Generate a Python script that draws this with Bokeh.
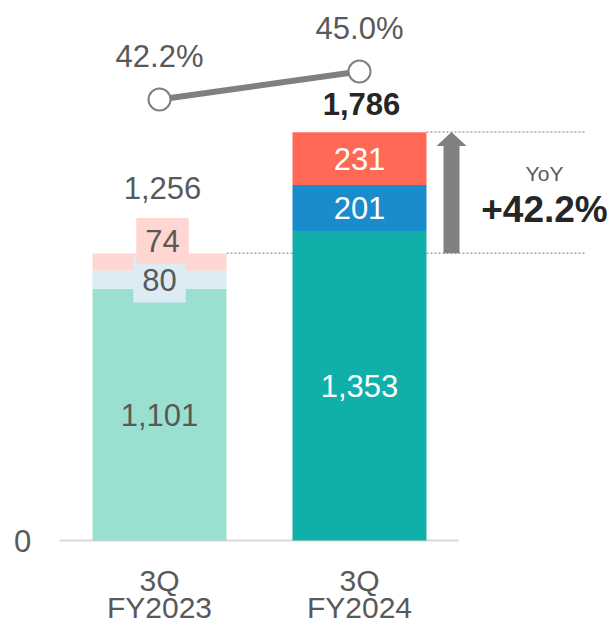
from bokeh.plotting import figure
from bokeh.models import Range1d
from bokeh.core.properties import value
from bokeh.embed import file_html
from bokeh.resources import INLINE
import numpy as np

# ---- data ----
cat_line1 = ["3Q", "3Q"]
cat_line2 = ["FY2023", "FY2024"]
seg_base = [1101, 1353]
seg_mid = [80, 201]
seg_top = [74, 231]
totals = [1256, 1786]
margin_pct = [42.2, 45.0]
yoy_label = "+42.2%"

# ---- styles ----
FONT = value("Liberation Sans")
GRAY = "#595959"
base_colors = ["#99e0d1", "#10afa9"]
mid_colors = ["#ddebf5", "#1a8bcb"]
top_colors = ["#ffd6d1", "#ff6a56"]
label_colors = [GRAY, "#ffffff"]

xs = np.arange(len(cat_line1))
b0 = np.zeros(2)
b1 = np.array(seg_base, float)
b2 = b1 + np.array(seg_mid)
b3 = b2 + np.array(seg_top)
W = 0.67
PX_PER_UNIT = 0.2287  # vertical pixels per value unit

p = figure(width=611, height=626, x_range=Range1d(-0.795, 2.26), y_range=Range1d(-376, 2361),
           output_backend="svg", toolbar_location=None, x_axis_type=None, y_axis_type=None,
           min_border=0, outline_line_color=None)
p.grid.visible = False
p.extra_y_ranges = {"pct": Range1d(-10.5, 52.1)}

# dotted guide lines
right_edge = 2.135
p.segment(x0=[xs[0] + W / 2, xs[1] + W / 2], y0=totals, x1=[right_edge, right_edge], y1=totals,
          line_color="#a6a6a6", line_width=1.5, line_dash="2 2")

# baseline
p.segment(x0=[-0.5], y0=[0], x1=[1.495], y1=[0], line_color="#d9d9d9", line_width=2)

# bars
p.vbar(x=xs, bottom=b0, top=b1, width=W, fill_color=base_colors, line_color=None)
p.vbar(x=xs, bottom=b1, top=b2, width=W, fill_color=mid_colors, line_color=None)
p.vbar(x=xs, bottom=b2, top=b3, width=W, fill_color=top_colors, line_color=None)

# segment labels
fs = "31px"
p.text(x=xs, y=(b0 + b1) / 2, text=[f"{v:,}" for v in seg_base], text_color=label_colors,
       text_font=FONT, text_font_size=fs, text_align="center", text_baseline="middle")
p.text(x=[xs[1]], y=[(b1[1] + b2[1]) / 2], text=[f"{seg_mid[1]:,}"], text_color="#ffffff",
       text_font=FONT, text_font_size=fs, text_align="center", text_baseline="middle")
p.text(x=[xs[1]], y=[(b2[1] + b3[1]) / 2], text=[f"{seg_top[1]:,}"], text_color="#ffffff",
       text_font=FONT, text_font_size=fs, text_align="center", text_baseline="middle")
# FY2023 small segments with boxed labels
p.text(x=[xs[0]], y=[(b1[0] + b2[0]) / 2], text=[f"{seg_mid[0]:,}"], text_color=GRAY,
       text_font=FONT, text_font_size=fs, text_align="center", text_baseline="middle",
       background_fill_color=mid_colors[0], padding=(9, 12))
p.text(x=[xs[0]], y=[(b2[0] + b3[0]) / 2], text=[f"{seg_top[0]:,}"], text_color=GRAY,
       text_font=FONT, text_font_size=fs, text_align="center", text_baseline="middle",
       x_offset=3, y_offset=-21, background_fill_color=top_colors[0], padding=(9, 12))

# totals
p.text(x=[xs[0]], y=[totals[0]], text=[f"{totals[0]:,}"], text_color=GRAY, text_font=FONT,
       text_font_size=fs, text_align="center", text_baseline="middle", x_offset=3, y_offset=-65)
p.text(x=[xs[1]], y=[totals[1]], text=[f"{totals[1]:,}"], text_color="#262626", text_font=FONT,
       text_font_size=fs, text_font_style="bold", text_align="center", text_baseline="middle",
       x_offset=2, y_offset=-28)

# margin line
p.line(x=xs, y=margin_pct, y_range_name="pct", line_color="#808080", line_width=6)
p.scatter(x=xs, y=margin_pct, y_range_name="pct", size=22, fill_color="#ffffff",
          line_color="#808080", line_width=2)
p.text(x=xs, y=margin_pct, y_range_name="pct", text=[f"{v:.1f}%" for v in margin_pct],
       text_color=GRAY, text_font=FONT, text_font_size=fs, text_align="center",
       text_baseline="middle", y_offset=-43)

# YoY arrow
ax = 1.46
head_len = 14 / PX_PER_UNIT
p.vbar(x=[ax], bottom=[totals[0]], top=[totals[1] - head_len], width=0.08,
       fill_color="#808080", line_color=None)
p.patch(x=[ax - 0.075, ax, ax + 0.075], y=[totals[1] - head_len, totals[1], totals[1] - head_len],
        fill_color="#808080", line_color=None)
p.text(x=[1.925], y=[totals[1]], text=["YoY"], text_color=GRAY, text_font=FONT,
       text_font_size="21px", text_align="center", text_baseline="middle", y_offset=41)
p.text(x=[1.925], y=[totals[1]], text=[yoy_label], text_color="#262626", text_font=FONT,
       text_font_size="37px", text_font_style="bold", text_align="center",
       text_baseline="middle", y_offset=77)

# axis labels
p.text(x=[-0.685], y=[0], text=["0"], text_color=GRAY, text_font=FONT, text_font_size=fs,
       text_align="center", text_baseline="middle")
p.text(x=xs, y=[0, 0], text=cat_line1, text_color=GRAY, text_font=FONT, text_font_size="30px",
       text_align="center", text_baseline="middle", y_offset=40)
p.text(x=xs, y=[0, 0], text=cat_line2, text_color=GRAY, text_font=FONT, text_font_size="30px",
       text_align="center", text_baseline="middle", y_offset=67)

open("out.html", "w").write(file_html(p, INLINE))
